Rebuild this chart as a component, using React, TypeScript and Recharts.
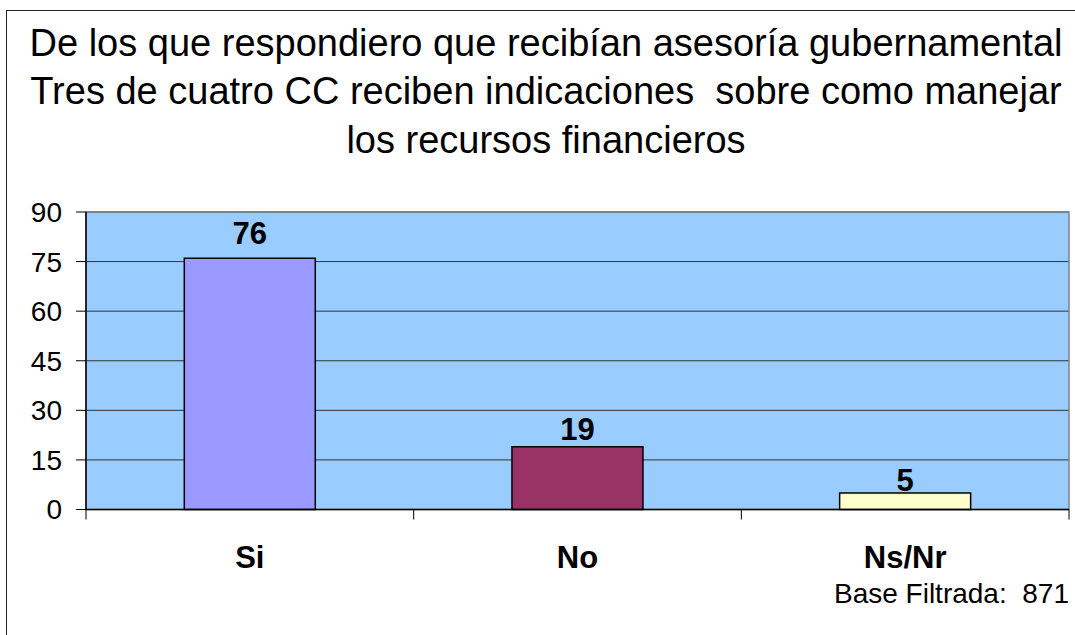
import React from 'react';
import { BarChart, Bar, XAxis, YAxis, CartesianGrid, Cell, LabelList, ReferenceArea } from 'recharts';

const categories = ['Si', 'No', 'Ns/Nr'];
const values = [76, 19, 5];
const barColors = ['#9999FF', '#993366', '#FFFFCC'];
const yTicks = [0, 15, 30, 45, 60, 75, 90];
const titleLines = [
  'De los que respondiero que recibían asesoría gubernamental',
  'Tres de cuatro CC reciben indicaciones  sobre como manejar',
  'los recursos financieros',
];
const baseNote = 'Base Filtrada:  871';

const data = categories.map((name, i) => ({ name, value: values[i] }));

const FONT = '"Liberation Sans", Arial, sans-serif';
const PLOT_LEFT = 86;
const PLOT_RIGHT = 1069;
const BAND = (PLOT_RIGHT - PLOT_LEFT) / categories.length;
// gap between each value label and its bar top, as placed in the original
const labelGaps = [14, 7, 2];

const CategoryTick = (props: any) => {
  const { x, y, payload, index } = props;
  return (
    <g>
      {index === 0 && <line x1={x - BAND / 2} x2={x - BAND / 2} y1={y} y2={y + 10} stroke="#000" />}
      <line x1={x + BAND / 2} x2={x + BAND / 2} y1={y} y2={y + 10} stroke="#000" />
      <text x={x} y={y + 58.5} textAnchor="middle" fontSize={31} fontWeight="bold" fill="#000" fontFamily={FONT}>
        {payload.value}
      </text>
    </g>
  );
};

const ValueLabel = (props: any) => {
  const { x, y, width, value, index } = props;
  return (
    <text x={x + width / 2} y={y - labelGaps[index]} textAnchor="middle" fontSize={31} fontWeight="bold" fill="#000" fontFamily={FONT}>
      {value}
    </text>
  );
};

export default function App() {
  return (
    <div style={{ position: 'absolute', left: 0, top: 0, width: 1075, height: 635, background: '#fff', fontFamily: FONT, overflow: 'hidden' }}>
      <div style={{ position: 'absolute', left: 6, top: 10, width: 1200, height: 800, borderLeft: '1.5px solid #222', borderTop: '1.5px solid #222' }} />
      {titleLines.map((t, i) => (
        <div
          key={i}
          style={{
            position: 'absolute', left: 6, width: 1080, top: 20.5 + i * 48.5, textAlign: 'center',
            fontSize: 38, lineHeight: '44px', whiteSpace: 'pre', color: '#000',
          }}
        >
          {t}
        </div>
      ))}
      <BarChart
        width={1075}
        height={635}
        data={data}
        margin={{ top: 212, right: 1075 - PLOT_RIGHT, bottom: 0, left: 0 }}
        barCategoryGap="30%"
      >
        <CartesianGrid vertical={false} stroke="#333" fill="#99CCFF" fillOpacity={1} />
        <ReferenceArea y1={0} y2={90} fill="none" stroke="#808080" strokeWidth={1.5} />
        <XAxis
          dataKey="name"
          height={125.5}
          tickLine={false}
          tickSize={0}
          tickMargin={0}
          axisLine={{ stroke: '#000', strokeWidth: 1.5 }}
          tick={<CategoryTick />}
          interval={0}
        />
        <YAxis
          width={PLOT_LEFT}
          domain={[0, 90]}
          ticks={yTicks}
          tickSize={10}
          tickMargin={14}
          axisLine={{ stroke: '#000', strokeWidth: 1.5 }}
          tickLine={{ stroke: '#000' }}
          tick={{ fontSize: 28, fill: '#000', fontFamily: FONT }}
        />
        <Bar dataKey="value" stroke="#000" strokeWidth={1.5} isAnimationActive={false}>
          {data.map((d, i) => (
            <Cell key={d.name} fill={barColors[i]} />
          ))}
          <LabelList dataKey="value" content={<ValueLabel />} />
        </Bar>
      </BarChart>
      <div style={{ position: 'absolute', right: 6, top: 578, fontSize: 28, lineHeight: '32px', whiteSpace: 'pre', color: '#000' }}>
        {baseNote}
      </div>
    </div>
  );
}
